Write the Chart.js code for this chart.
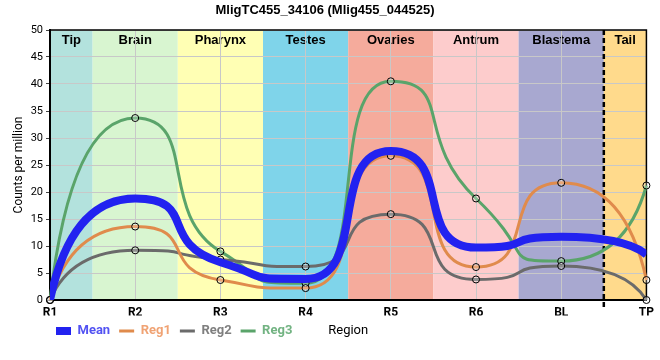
<!DOCTYPE html>
<html><head><meta charset="utf-8">
<script src="https://cdn.jsdelivr.net/npm/chart.js@4"></script>
<style>html,body{margin:0;padding:0;background:#fff}</style>
</head><body>
<canvas id="c" width="660" height="360"></canvas>
<script>
const regions = ['R1', 'R2', 'R3', 'R4', 'R5', 'R6', 'BL', 'TP'];
const meanValues = [0, 18.8, 7.0, 3.9, 27.6, 9.7, 11.7, 8.4];
const reg1Values = [0, 13.6, 3.7, 2.2, 26.7, 6.1, 21.7, 3.7];
const reg2Values = [0, 9.2, 7.5, 6.2, 15.9, 3.8, 6.3, 0];
const reg3Values = [0, 33.7, 9.0, 3.1, 40.5, 18.8, 7.2, 21.2];
const seriesNames = ['Mean', 'Reg1', 'Reg2', 'Reg3'];
const bandNames = ['Tip', 'Brain', 'Pharynx', 'Testes', 'Ovaries', 'Antrum', 'Blastema', 'Tail'];
const bandStart = [0, 0.5, 1.5, 2.5, 3.5, 4.5, 5.5, 6.5];
const bandEnd = [0.5, 1.5, 2.5, 3.5, 4.5, 5.5, 6.5, 7];
const tailBoundary = 6.5;

const bandColors = ['#b3e2dd', '#d8f5d0', '#ffffb4', '#7fd4ea', '#f5ab9c', '#fdcccc', '#a8a8d0', '#ffda8c'];
const lineColors = ['#2222f0', '#e08b4c', '#6b6b6b', '#5aa46a'];
const legendTextColors = ['#5252f2', '#f0a374', '#7f7f7f', '#72b382'];
const HANDLE = 0.75;

Chart.defaults.font.family = 'Roboto';

// Smooth monotone-style curve: recompute Bezier handles from the points the library placed.
function reshapeCurve(line) {
  const p = line.points;
  const n = p.length;
  if (n < 3) return;
  const dxs = [], sl = [];
  for (let i = 0; i < n - 1; i++) {
    dxs[i] = p[i + 1].x - p[i].x;
    sl[i] = (p[i + 1].y - p[i].y) / dxs[i];
  }
  const m = new Array(n).fill(0);
  for (let i = 1; i < n - 1; i++) {
    if (sl[i - 1] * sl[i] > 0) m[i] = 2 * sl[i - 1] * sl[i] / (sl[i - 1] + sl[i]);
  }
  const handle = (i, dir) => {
    const j = i + dir;
    const L = HANDLE * Math.abs(dxs[dir < 0 ? i - 1 : i]);
    let hx = dir * L, hy = dir * m[i] * L;
    const rng = Math.abs(p[j].y - p[i].y);
    if (Math.abs(hy) > rng && Math.abs(hy) > 0) {
      const f = rng / Math.abs(hy);
      hx *= f; hy *= f;
    }
    return {x: p[i].x + hx, y: p[i].y + hy};
  };
  for (let i = 0; i < n; i++) {
    const c1 = i > 0 ? handle(i, -1) : {x: p[i].x, y: p[i].y};
    const c2 = i < n - 1 ? handle(i, 1) : {x: p[i].x, y: p[i].y};
    p[i].cp1x = c1.x; p[i].cp1y = c1.y;
    p[i].cp2x = c2.x; p[i].cp2y = c2.y;
  }
  // end segments: quadratic through neighbour's handle
  let q = {x: p[1].cp1x, y: p[1].cp1y};
  p[0].cp2x = p[0].x + 2 / 3 * (q.x - p[0].x); p[0].cp2y = p[0].y + 2 / 3 * (q.y - p[0].y);
  p[1].cp1x = p[1].x + 2 / 3 * (q.x - p[1].x); p[1].cp1y = p[1].y + 2 / 3 * (q.y - p[1].y);
  q = {x: p[n - 2].cp2x, y: p[n - 2].cp2y};
  p[n - 1].cp1x = p[n - 1].x + 2 / 3 * (q.x - p[n - 1].x); p[n - 1].cp1y = p[n - 1].y + 2 / 3 * (q.y - p[n - 1].y);
  p[n - 2].cp2x = p[n - 2].x + 2 / 3 * (q.x - p[n - 2].x); p[n - 2].cp2y = p[n - 2].y + 2 / 3 * (q.y - p[n - 2].y);
}

const curvePlugin = {
  id: 'curveShape',
  beforeDatasetsDraw(chart) {
    chart.getSortedVisibleDatasetMetas().forEach(meta => {
      const line = meta.dataset;
      if (!line) return;
      line.updateControlPoints(chart.chartArea, 'x');
      reshapeCurve(line);
      line._path = undefined;
    });
  }
};

const bandsPlugin = {
  id: 'bands',
  beforeDraw(chart) {
    const {ctx, chartArea: a, scales: {x}} = chart;
    ctx.save();
    for (let i = 0; i < bandNames.length; i++) {
      const x0 = x.getPixelForValue(bandStart[i]);
      const x1 = x.getPixelForValue(bandEnd[i]);
      ctx.fillStyle = bandColors[i];
      ctx.fillRect(x0, a.top, x1 - x0, a.bottom - a.top);
    }
    ctx.fillStyle = '#000';
    ctx.font = 'bold 13px "Liberation Sans", Arial, sans-serif';
    ctx.textAlign = 'center';
    ctx.textBaseline = 'middle';
    for (let i = 0; i < bandNames.length; i++) {
      const x0 = x.getPixelForValue(bandStart[i]);
      const x1 = x.getPixelForValue(bandEnd[i]);
      ctx.fillText(bandNames[i], (x0 + x1) / 2, a.top + 10);
    }
    ctx.restore();
  },
  beforeDatasetsDraw(chart) {
    const {ctx, chartArea: a, scales: {x}} = chart;
    ctx.save();
    ctx.strokeStyle = '#000';
    ctx.lineWidth = 1.5;
    ctx.beginPath();
    ctx.moveTo(a.left, a.top);
    ctx.lineTo(a.right, a.top);
    ctx.lineTo(a.right, a.bottom);
    ctx.stroke();
    const xd = x.getPixelForValue(tailBoundary);
    ctx.lineWidth = 2.5;
    ctx.setLineDash([5, 3]);
    ctx.beginPath();
    ctx.moveTo(xd, a.top);
    ctx.lineTo(xd, a.bottom + 8);
    ctx.stroke();
    ctx.restore();
  },
  afterLayout(chart) {
    chart.legend.left = 47;
  },
  afterDraw(chart) {
    const {ctx} = chart;
    const lg = chart.legend;
    ctx.save();
    ctx.fillStyle = '#000';
    ctx.font = '13px Roboto';
    ctx.textAlign = 'center';
    ctx.textBaseline = 'middle';
    ctx.fillText('Region', (chart.chartArea.left + chart.chartArea.right) / 2, lg.top + 9 + 6.5);
    ctx.restore();
  }
};

function ds(label, data, i, extra) {
  return Object.assign({
    label, data,
    borderColor: lineColors[i],
    backgroundColor: lineColors[i],
    borderWidth: 3,
    cubicInterpolationMode: 'monotone',
    fill: false,
    pointRadius: 3.5,
    pointBorderColor: '#000',
    pointBorderWidth: 1,
    pointBackgroundColor: 'rgba(255,255,255,0.25)',
    clip: false
  }, extra || {});
}

new Chart(document.getElementById('c'), {
  type: 'line',
  data: {
    labels: regions,
    datasets: [
      ds(seriesNames[0], meanValues, 0, {borderWidth: 8, pointRadius: 0, clip: 0, order: 0}),
      ds(seriesNames[1], reg1Values, 1, {order: 1}),
      ds(seriesNames[2], reg2Values, 2, {order: 2}),
      ds(seriesNames[3], reg3Values, 3, {order: 3})
    ]
  },
  options: {
    responsive: false,
    animation: false,
    layout: {padding: {left: 0, right: 10, top: 0, bottom: 12.5}},
    plugins: {
      title: {
        display: true,
        text: 'MligTC455_34106 (Mlig455_044525)',
        color: '#000',
        font: {family: '"Liberation Sans", Arial, sans-serif', size: 13, weight: 'bold'},
        padding: {top: 3, bottom: 11.4}
      },
      legend: {
        position: 'bottom',
        align: 'start',
        labels: {
          usePointStyle: true,
          pointStyleWidth: 15,
          boxHeight: 8,
          padding: 9,
          font: {size: 13, weight: 'bold', family: 'Roboto'},
          generateLabels: chart => chart.data.datasets.map((d, i) => ({
            text: d.label,
            fillStyle: lineColors[i],
            strokeStyle: lineColors[i],
            lineWidth: i === 0 ? 0 : 3,
            pointStyle: i === 0 ? 'rect' : 'line',
            fontColor: legendTextColors[i],
            datasetIndex: i,
            hidden: false
          }))
        }
      },
      tooltip: {enabled: false}
    },
    scales: {
      x: {
        type: 'category',
        offset: false,
        grid: {color: '#c8c8c8', drawTicks: false},
        border: {color: '#000', width: 2},
        ticks: {color: '#000', padding: 6, font: {size: 12, weight: 'bold'}, autoSkip: false, maxRotation: 0},
        afterFit(s) { s.height = 15.5; }
      },
      y: {
        min: 0, max: 50,
        grid: {color: '#c8c8c8', tickColor: '#444', tickLength: 4},
        border: {color: '#000', width: 2},
        ticks: {stepSize: 5, color: '#000', padding: 3, font: {size: 11}},
        title: {display: true, text: 'Counts per million', color: '#000', font: {size: 12}, padding: {top: 12, bottom: 0}},
        afterFit(s) { s.width = 50; }
      }
    }
  },
  plugins: [curvePlugin, bandsPlugin]
});
</script>
</body></html>
